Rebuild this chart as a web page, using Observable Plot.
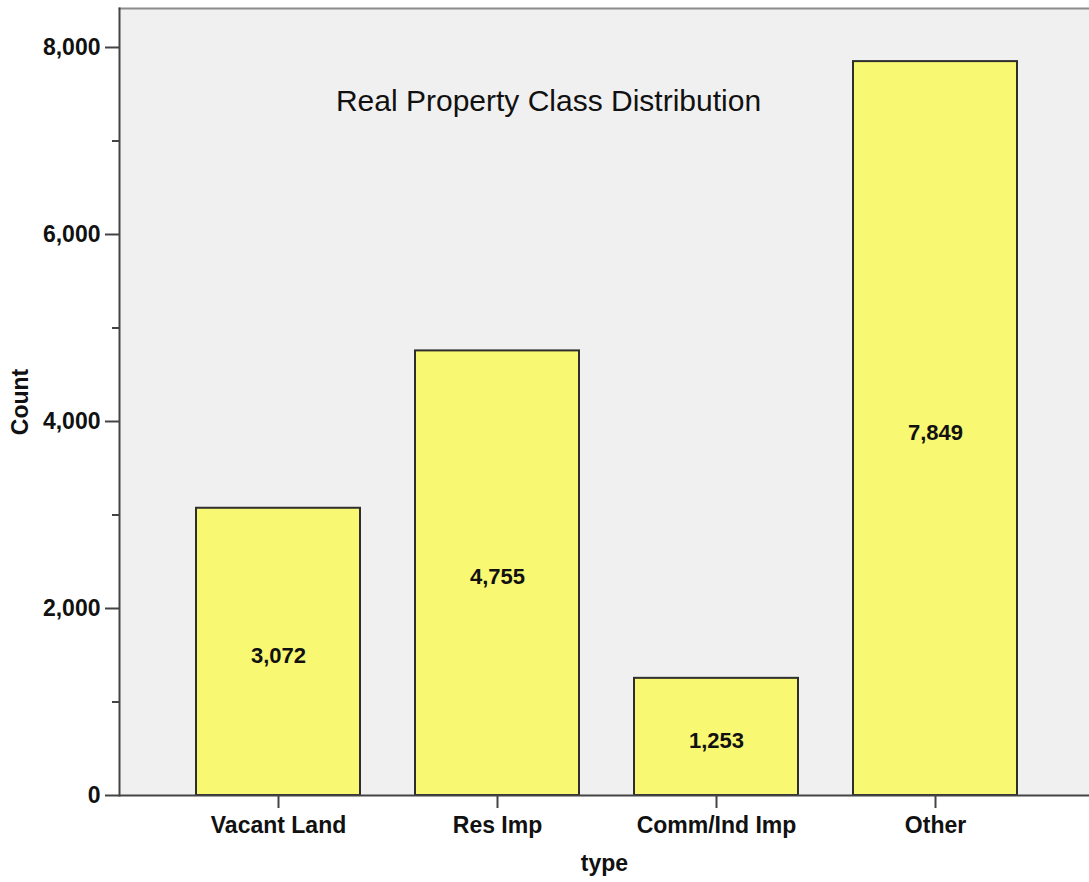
<!DOCTYPE html>
<html>
<head>
<meta charset="utf-8">
<script src="https://cdn.jsdelivr.net/npm/d3@7"></script>
<script src="https://cdn.jsdelivr.net/npm/@observablehq/plot@0.6"></script>
<style>
  html, body { margin: 0; padding: 0; background: #fff; overflow: hidden; }
  #chart svg { display: block; }
</style>
</head>
<body>
<div id="chart"></div>
<script>
const categories = ["Vacant Land", "Res Imp", "Comm/Ind Imp", "Other"];
const counts = [3072, 4755, 1253, 7849];
const majorTicks = [0, 2000, 4000, 6000, 8000];
const minorTicks = [1000, 3000, 5000, 7000];
const title = "Real Property Class Distribution";
const xLabel = "type";
const yLabel = "Count";

const data = categories.map((c, i) => ({type: c, count: counts[i]}));
const font = "'Liberation Sans', Arial, sans-serif";
const fmt = d3.format(",");

const chart = Plot.plot({
  width: 1089,
  height: 882,
  marginLeft: 119,
  marginRight: 0,
  marginTop: 8,
  marginBottom: 87,
  style: {fontFamily: font, background: "#fff", overflow: "visible"},
  x: {domain: categories, range: [119, 1094], paddingInner: 0.25, paddingOuter: 0.345},
  y: {domain: [0, 8417]},
  marks: [
    Plot.frame({fill: "#f0f0f0", stroke: null}),
    Plot.frame({anchor: "top", stroke: "#8c8c8c", strokeWidth: 2}),
    Plot.barY(data, {x: "type", y: "count", fill: "#f8f872", stroke: "#2e2e2e", strokeWidth: 2}),
    Plot.text(data, {x: "type", y: d => d.count / 2, text: d => fmt(d.count),
      fontSize: 22, fontWeight: "bold", fill: "#111", dy: 4, fontFamily: font}),
    Plot.ruleY([0], {stroke: "#444", strokeWidth: 2}),
    Plot.frame({anchor: "left", stroke: "#444", strokeWidth: 2}),
    Plot.axisY({ticks: majorTicks, tickSize: 14, tickPadding: 5, tickFormat: fmt, label: null,
      fontSize: 23, fontWeight: "bold", stroke: "#444", strokeWidth: 2, fill: "#111"}),
    Plot.axisY({ticks: minorTicks, tickSize: 7, tickFormat: null, text: null, label: null,
      stroke: "#444", strokeWidth: 2}),
    Plot.axisX({tickSize: 13, tickPadding: 8, label: null, fontSize: 23, fontWeight: "bold",
      stroke: "#444", strokeWidth: 2, fill: "#111"}),
    Plot.text([title], {frameAnchor: "top-left", dx: 429, dy: 81, textAnchor: "middle",
      fontSize: 30, fill: "#111", fontFamily: font}),
    Plot.text([yLabel], {frameAnchor: "left", dx: -99, rotate: -90, textAnchor: "middle",
      fontSize: 23, fontWeight: "bold", fill: "#111", fontFamily: font}),
    Plot.text([xLabel], {frameAnchor: "bottom", dy: 75, textAnchor: "middle",
      fontSize: 23, fontWeight: "bold", fill: "#111", fontFamily: font})
  ]
});
document.getElementById("chart").appendChild(chart);
</script>
</body>
</html>
